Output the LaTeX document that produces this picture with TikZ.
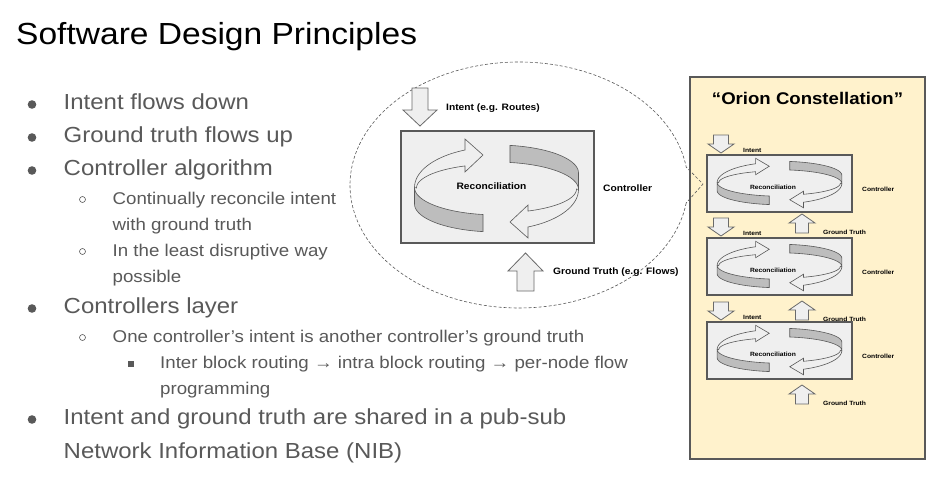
\documentclass[tikz,border=0pt]{standalone}
\usepackage{fontspec}
\setmainfont[FakeStretch=1.1]{Liberation Sans}
\definecolor{txt}{HTML}{595959}
\definecolor{boxfill}{HTML}{EFEFEF}
\definecolor{bandfill}{HTML}{BDBDBD}
\definecolor{panelfill}{HTML}{FFF2CC}
\definecolor{edge}{HTML}{595959}
\tikzset{
  l1/.style={anchor=base west, inner sep=0, text=txt, font=\fontsize{21.8}{26}\selectfont},
  l2/.style={anchor=base west, inner sep=0, text=txt, font=\fontsize{17}{20}\selectfont},
  dotone/.style={circle, fill=txt, inner sep=0, minimum size=8.6},
  dottwo/.style={circle, draw=txt, line width=0.6, inner sep=0, minimum size=6},
  dotthree/.style={rectangle, fill=txt, inner sep=0, minimum size=6},
  bigbox/.style={draw=edge, fill=boxfill, line width=1.3, minimum width=193, minimum height=112, inner sep=0},
  smallbox/.style={draw=edge, fill=boxfill, line width=1.1, minimum width=145, minimum height=57, inner sep=0},
  lblbig/.style={inner sep=0, font=\fontsize{9.3}{11}\selectfont\bfseries},
  lblsmall/.style={inner sep=0, font=\fontsize{6.1}{7}\selectfont\bfseries},
  blockarrowstyle/.style={draw=edge!90, fill=boxfill, line width=0.8, line join=miter},
  recband/.style={draw=edge, fill=bandfill, line width=0.6},
  reconarrow/.style={draw=edge, fill=boxfill, line width=0.6, line join=miter},
  bubble/.style={draw=edge, line width=0.6, dash pattern=on 3pt off 2pt},
  pics/blockdown/.style args={#1/#2/#3/#4}{code={
    \path[blockarrowstyle] (-#2,0) -- (#2,0) -- (#2,#1-#4) -- (#3,#1-#4) -- (0,#1)
      -- (-#3,#1-#4) -- (-#2,#1-#4) -- cycle;
  }},
  pics/recon/.style={code={
    \foreach \r in {0,180}{
      \begin{scope}[rotate=\r]
        \path[recband]
          plot[domain=0:80.53, samples=25] ({82*cos(180-\x)},{-1+27.4*sin(180-\x)})
          -- plot[domain=99.47:180, samples=25] ({82*cos(\x)},{15.5+28*sin(\x)}) -- cycle;
        \path[reconarrow]
          plot[domain=0:67.4, samples=25] ({82*cos(180-\x)},{-1-40.6*sin(180-\x)})
          -- (-31.5,-49.5) -- (-13.5,-33.5) -- (-31.5,-16.5)
          -- plot[domain=113.2:180, samples=25] ({80*cos(\x)},{-0.5-24*sin(\x)}) -- cycle;
      \end{scope}
    }
  }}
}
\begin{document}
\begin{tikzpicture}[x=1pt, y=-1pt]
\useasboundingbox[fill=white] (0,0) rectangle (936,487);

% title
\node[anchor=base west, inner sep=0, font=\fontsize{30.5}{36}\selectfont] (title) at (16,45) {Software Design Principles};

% bullets
\node[dotone] (d1) at (32,104.5) {};
\node[l1] (b1) at (63.5,109.5) {Intent flows down};
\node[dotone] (d2) at (32,137.5) {};
\node[l1] (b2) at (63.5,142.5) {Ground truth flows up};
\node[dotone] (d3) at (32,170.5) {};
\node[l1] (b3) at (63.5,175.5) {Controller algorithm};
\node[dottwo] (d31) at (82.5,199.5) {};
\node[l2] (b31a) at (112.5,204) {Continually reconcile intent};
\node[l2] (b31b) at (112.5,230) {with ground truth};
\node[dottwo] (d32) at (82.5,251.5) {};
\node[l2] (b32a) at (112.5,256) {In the least disruptive way};
\node[l2] (b32b) at (112.5,282) {possible};
\node[dotone] (d4) at (32,308.5) {};
\node[l1] (b4) at (63.5,313.5) {Controllers layer};
\node[dottwo] (d41) at (82.5,337.5) {};
\node[l2] (b41) at (112.5,342) {One controller’s intent is another controller’s ground truth};
\node[dotthree] (d411) at (130.5,363.5) {};
\node[l2] (b411a) at (160,368) {Inter block routing → intra block routing → per-node flow};
\node[l2] (b411b) at (160,394) {programming};
\node[dotone] (d5) at (32,419.5) {};
\node[l1] (b5a) at (63.5,424.5) {Intent and ground truth are shared in a pub-sub};
\node[l1] (b5b) at (63.5,458.5) {Network Information Base (NIB)};

% Orion panel
\node[draw=edge, fill=panelfill, line width=1.2, minimum width=235, minimum height=382, inner sep=0] (orion) at (807.5,268) {};
\node[inner sep=0, font=\fontsize{16.9}{20}\selectfont\bfseries] (oriont) at (807.5,98) {“Orion Constellation”};

% dashed bubble
\path[bubble] plot[domain=8.4:351.6, samples=150] ({519+169*cos(\x)},{185+123*sin(\x)}) -- (703,184) -- cycle;

% big controller
\node[bigbox] (ctrl) at (497.5,187) {};
\pic at (496.5,188.5) {recon};
\node[lblbig] (reca) at (491.5,186.5) {Reconciliation};
\node[lblbig, anchor=west] (ctrla) at (603,188) {Controller};
\pic at (420,88) {blockdown=38/8/17/16};
\node[lblbig, anchor=west] (inta) at (446,108) {Intent (e.g. Routes)};
\pic[rotate=180] at (525.5,291) {blockdown=38/8.5/17.5/18};
\node[lblbig, anchor=west] (gta) at (553,272) {Ground Truth (e.g. Flows)};

% small controllers
\foreach \cy/\n in {183.5/1, 266.5/2, 350.5/3}{
  \node[smallbox] (sbox\n) at (779.5,\cy) {};
  \pic[xscale=0.76, yscale=0.5] at (779.5,\cy-0.5) {recon};
  \node[lblsmall] (srec\n) at (773,\cy+4) {Reconciliation};
  \node[lblsmall, anchor=west] (sctrl\n) at (862,\cy+5.5) {Controller};
}
\foreach \ty/\n in {135/1, 218/2, 302/3}{
  \pic at (721,\ty) {blockdown=18/7.5/13/9};
  \node[lblsmall, anchor=west] (sint\n) at (743,\ty+15) {Intent};
}
\foreach \by/\n in {233/1, 320/2, 404/3}{
  \pic[rotate=180] at (802,\by) {blockdown=19/6.5/13/9};
  \node[lblsmall, anchor=west] (sgt\n) at (823,\by-1) {Ground Truth};
}
\end{tikzpicture}
\end{document}
